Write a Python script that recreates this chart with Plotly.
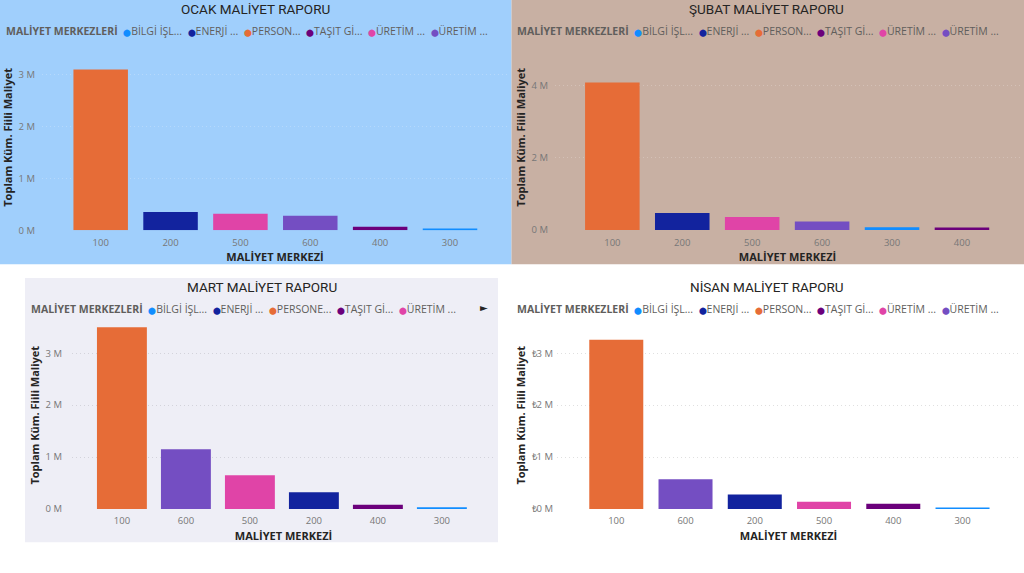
import plotly.graph_objects as go

W, H = 1024, 573

# ---------------- data ----------------
ocak_centers = ["100", "200", "500", "600", "400", "300"]
ocak_values = [3100000, 350000, 320000, 280000, 70000, 20000]

subat_centers = ["100", "200", "500", "600", "300", "400"]
subat_values = [4090000, 470000, 360000, 240000, 80000, 70000]

mart_centers = ["100", "600", "500", "200", "400", "300"]
mart_values = [3500000, 1150000, 650000, 320000, 80000, 30000]

nisan_centers = ["100", "600", "200", "500", "400", "300"]
nisan_values = [3260000, 570000, 280000, 140000, 100000, 20000]

center_colors = {
    "100": "#E66C37",
    "200": "#12239E",
    "300": "#118DFF",
    "400": "#6B007B",
    "500": "#E044A7",
    "600": "#744EC2",
}

legend_centers = ["300", "200", "100", "400", "500", "600"]
legend_names = ["BİLGİ İŞL...", "ENERJİ ...", "PERSON...", "TAŞIT Gİ...", "ÜRETİM ...", "ÜRETİM ..."]
mart_legend_centers = ["300", "200", "100", "400", "500"]
mart_legend_names = ["BİLGİ İŞL...", "ENERJİ ...", "PERSONE...", "TAŞIT Gİ...", "ÜRETİM ..."]

ocak_tickvals = [0, 1000000, 2000000, 3000000]
ocak_ticktext = ["0 M", "1 M", "2 M", "3 M"]
subat_tickvals = [0, 2000000, 4000000]
subat_ticktext = ["0 M", "2 M", "4 M"]
mart_tickvals = [0, 1000000, 2000000, 3000000]
mart_ticktext = ["0 M", "1 M", "2 M", "3 M"]
nisan_tickvals = [0, 1000000, 2000000, 3000000]
nisan_ticktext = ["₺0 M", "₺1 M", "₺2 M", "₺3 M"]

titles = ["OCAK MALİYET RAPORU", "ŞUBAT MALİYET RAPORU", "MART MALİYET RAPORU", "NİSAN MALİYET RAPORU"]
x_title = "MALİYET MERKEZİ"
y_title = "Toplam Küm. Fiili Maliyet"
legend_title = "MALİYET MERKEZLERİ"

# ---------------- helpers ----------------
def px_x(p):
    return p / W

def px_y(p):
    return 1 - p / H

TXT = "#252423"
GRAY = "#605E5C"
TICK = "#777777"
FONT = "Open Sans"
TFONT = "Roboto"

panels = [
    dict(cats=ocak_centers, vals=ocak_values, tv=ocak_tickvals, tt=ocak_ticktext,
         xd=(42, 508), yd=(45, 232.7), xr=[-0.84, 5.83], ytop=3580000,
         grid="rgba(255,255,255,0.22)", title=titles[0], tx=255, ty=9,
         lx=4, ly=31.5, lc=legend_centers, ln=legend_names, ystand=6, ytstand=3),
    dict(cats=subat_centers, vals=subat_values, tv=subat_tickvals, tt=subat_ticktext,
         xd=(555, 1020), yd=(45, 232.5), xr=[-0.82, 5.83], ytop=5140000,
         grid="rgba(255,255,255,0.22)", title=titles[1], tx=766, ty=9,
         lx=515, ly=31.5, lc=legend_centers, ln=legend_names, ystand=6, ytstand=3),
    dict(cats=mart_centers, vals=mart_values, tv=mart_tickvals, tt=mart_ticktext,
         xd=(72, 495), yd=(325, 514.3), xr=[-0.78, 5.83], ytop=3610000,
         grid="#D3D3DB", title=titles[2], tx=262, ty=290,
         lx=29, ly=312.5, lc=mart_legend_centers, ln=mart_legend_names, ystand=9, ytstand=3),
    dict(cats=nisan_centers, vals=nisan_values, tv=nisan_tickvals, tt=nisan_ticktext,
         xd=(557, 1020), yd=(325, 514.3), xr=[-0.856, 5.83], ytop=3610000,
         grid="#E0E0E0", title=titles[3], tx=767, ty=290,
         lx=515, ly=312.5, lc=legend_centers, ln=legend_names, ystand=3, ytstand=3),
]

fig = go.Figure()
layout = dict(
    width=W, height=H,
    margin=dict(l=0, r=0, t=0, b=0),
    paper_bgcolor="white",
    plot_bgcolor="rgba(0,0,0,0)",
    barmode="overlay",
    bargap=0.22,
    showlegend=False,
    font=dict(family=FONT, color=GRAY),
)

annotations = []
for i, p in enumerate(panels):
    n = "" if i == 0 else str(i + 1)
    fig.add_trace(go.Bar(
        x=p["cats"], y=p["vals"],
        marker=dict(color=[center_colors[c] for c in p["cats"]], line=dict(width=0)),
        xaxis="x" + n, yaxis="y" + n, showlegend=False,
    ))
    layout["xaxis" + n] = dict(
        domain=[px_x(p["xd"][0]), px_x(p["xd"][1])],
        anchor="y" + n, type="category", range=p["xr"],
        showgrid=False, showline=False, zeroline=False, ticks="",
        ticklabelstandoff=5,
        tickfont=dict(family=FONT, size=9.5, color=TICK),
        title=dict(text="<b>" + x_title + "</b>", font=dict(family=FONT, size=11, color=TXT), standoff=5),
    )
    layout["yaxis" + n] = dict(
        domain=[px_y(p["yd"][1]), px_y(p["yd"][0])],
        anchor="x" + n, range=[0, p["ytop"]],
        tickvals=p["tv"], ticktext=p["tt"],
        showgrid=True, gridcolor=p["grid"], griddash="1px,3px", gridwidth=1,
        showline=False, zeroline=False, ticks="",
        ticklabelstandoff=p["ystand"],
        tickfont=dict(family=FONT, size=9.5, color=TICK),
        title=dict(text="<b>" + y_title + "</b>", font=dict(family=FONT, size=11, color=TXT), standoff=p["ytstand"]),
    )
    annotations.append(dict(
        text=p["title"], x=px_x(p["tx"]), y=px_y(p["ty"]), xref="paper", yref="paper",
        xanchor="center", yanchor="middle", showarrow=False,
        font=dict(family=TFONT, size=13.5, color=TXT),
    ))
    items = "".join(
        "<span style='color:%s;font-size:7px'>⬤</span>%s&nbsp;&nbsp;" % (center_colors[c], nm)
        for c, nm in zip(p["lc"], p["ln"])
    )
    annotations.append(dict(
        text="<b>%s</b>&nbsp;&nbsp;" % legend_title + items,
        x=px_x(p["lx"]), y=px_y(p["ly"]), xref="paper", yref="paper",
        xanchor="left", yanchor="middle", showarrow=False,
        font=dict(family=FONT, size=10.5, color=GRAY),
    ))

annotations.append(dict(
    text="►", x=px_x(484), y=px_y(311), xref="paper", yref="paper",
    xanchor="center", yanchor="middle", showarrow=False,
    font=dict(family="DejaVu Sans", size=10, color="#252423"),
))

shapes = [
    dict(type="rect", xref="paper", yref="paper", x0=0, x1=px_x(511.5), y0=px_y(267), y1=1,
         fillcolor="#A0CFFC", line=dict(width=0), layer="below"),
    dict(type="rect", xref="paper", yref="paper", x0=px_x(511.5), x1=1, y0=px_y(267), y1=1,
         fillcolor="#C8B0A3", line=dict(width=0), layer="below"),
    dict(type="rect", xref="paper", yref="paper", x0=px_x(25), x1=px_x(498), y0=px_y(548), y1=px_y(281),
         fillcolor="#EEEEF6", line=dict(width=0), layer="below"),
]

layout["annotations"] = annotations
layout["shapes"] = shapes
fig.update_layout(**layout)
fig.write_html("out.html")
